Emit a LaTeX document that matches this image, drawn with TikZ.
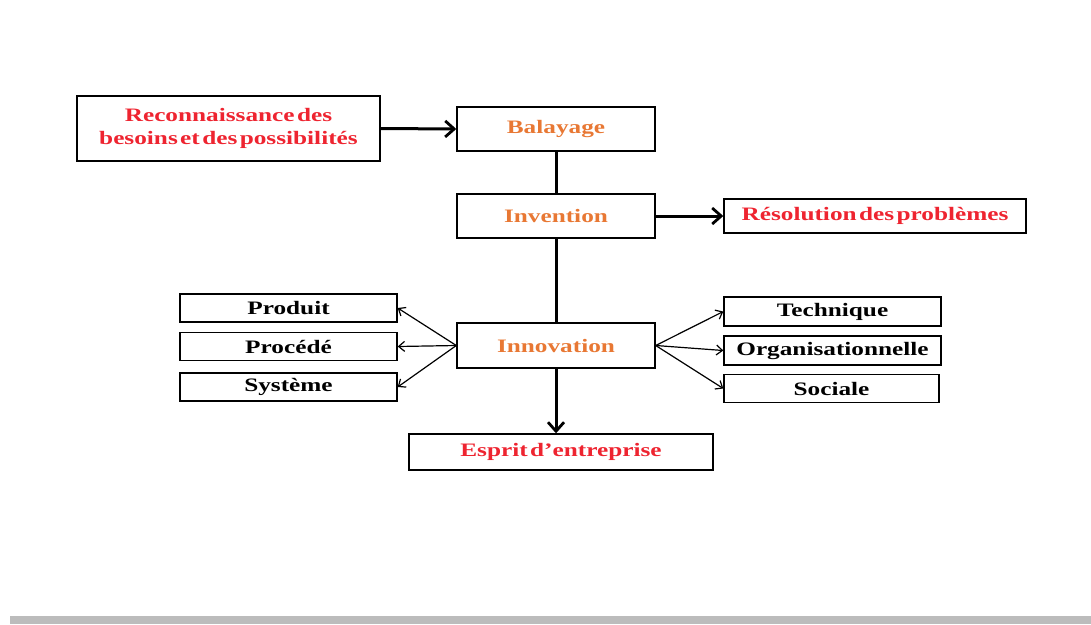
\documentclass[tikz,border=0pt]{standalone}
\usepackage{fontspec}
\setmainfont{Liberation Serif}[FakeStretch=1.33]
\usetikzlibrary{arrows.meta}
\definecolor{titlered}{RGB}{238,36,48}
\definecolor{steporange}{RGB}{232,120,52}
\definecolor{bargray}{RGB}{188,188,188}
\newcommand\boxfont{\fontsize{19}{23}\selectfont\bfseries\spaceskip=2.4pt plus 1pt minus 1pt\relax}
\tikzset{
	box/.style={draw, line width=1.4pt, inner sep=0pt, font=\boxfont, align=center},
	bigarrow/.style={line width=3pt, -{Straight Barb[length=9pt, width=16pt, line width=2.8pt]}},
	thinarrow/.style={line width=1.2pt, -{Straight Barb[length=6pt, width=10pt]}}
}
\begin{document}
\begin{tikzpicture}[x=1pt, y=-1pt]
		%%%%% START %%%%%
		\useasboundingbox (0, 0) rectangle (1091, 624);
		\fill[bargray] (10, 616) rectangle (1091, 624);
		
		\node[box, text=titlered, minimum width=303, minimum height=65] (besoins) at (228.5, 128.5) {Reconnaissance des\\besoins et des possibilités};
		\node[box, text=steporange, minimum width=198, minimum height=44] (balayage) at (556, 129) {Balayage};
		\node[box, text=steporange, minimum width=198, minimum height=44] (invention) at (556, 216) {Invention};
		\node[box, text=titlered, minimum width=302, minimum height=34] (resolution) at (875, 216) {Résolution des problèmes};
		\node[box, text=steporange, minimum width=198, minimum height=45] (innovation) at (556, 345.5) {Innovation};
		\node[box, text=titlered, minimum width=304, minimum height=36] (esprit) at (561, 452) {Esprit d’entreprise};
		
		\node[box, minimum width=217, minimum height=28] (produit) at (288.5, 308) {Produit};
		\node[box, minimum width=217, minimum height=28] (procede) at (288.5, 346.5) {Procédé};
		\node[box, minimum width=217, minimum height=28] (systeme) at (288.5, 387) {Système};
		
		\node[box, minimum width=217, minimum height=29] (technique) at (832.5, 311.5) {Technique};
		\node[box, minimum width=217, minimum height=29] (organisation) at (832.5, 350.5) {Organisationnelle};
		\node[box, minimum width=215, minimum height=28] (sociale) at (831.5, 388.5) {Sociale};
		
		\draw[bigarrow] (besoins.east) -- (balayage.west);
		\draw[line width=3pt] (balayage) -- (invention);
		\draw[line width=3pt] (invention) -- (innovation);
		\draw[bigarrow] (invention.east) -- (resolution.west);
		\draw[bigarrow] (innovation.south) -- (innovation.south |- esprit.north);
		
		\foreach \target in {produit, procede, systeme}
			\draw[thinarrow] (innovation.west) -- (\target.east);
		\foreach \target in {technique, organisation, sociale}
			\draw[thinarrow] (innovation.east) -- (\target.west);
		%%%%% END %%%%%
\end{tikzpicture}
\end{document}
